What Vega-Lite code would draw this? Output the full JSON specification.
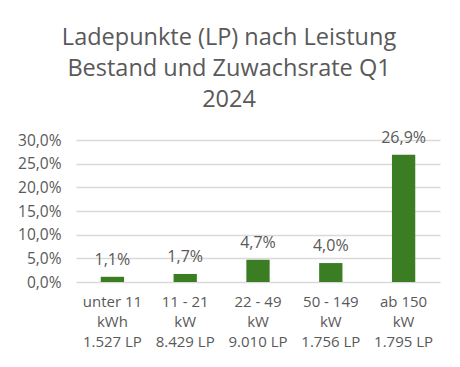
{
  "$schema": "https://vega.github.io/schema/vega-lite/v6.json",
  "width": 364,
  "height": 142,
  "autosize": {"type": "none"},
  "padding": {"left": 76, "top": 140, "right": 20, "bottom": 85},
  "background": "white",
  "title": {
    "text": ["Ladepunkte (LP) nach Leistung", "Bestand und Zuwachsrate Q1", "2024"],
    "fontSize": 23.5,
    "lineHeight": 31,
    "font": "Open Sans",
    "fontWeight": "normal",
    "color": "#595959",
    "anchor": "middle",
    "dx": -29,
    "offset": 18
  },
  "data": {
    "values": [
      {"kategorie": "unter 11|kWh|1.527 LP", "rate": 0.011},
      {"kategorie": "11 - 21|kW|8.429 LP", "rate": 0.017},
      {"kategorie": "22 - 49|kW|9.010 LP", "rate": 0.047},
      {"kategorie": "50 - 149|kW|1.756 LP", "rate": 0.040},
      {"kategorie": "ab 150|kW|1.795 LP", "rate": 0.269}
    ]
  },
  "encoding": {
    "x": {
      "field": "kategorie",
      "type": "nominal",
      "sort": null,
      "scale": {"paddingInner": 0.68, "paddingOuter": 0.34},
      "axis": {
        "title": null,
        "labelAngle": 0,
        "labelExpr": "split(datum.label, '|')",
        "labelLineHeight": 20,
        "labelFontSize": 15,
        "labelFont": "Open Sans",
        "labelColor": "#595959",
        "labelPadding": 12,
        "ticks": false,
        "domain": false
      }
    },
    "y": {
      "field": "rate",
      "type": "quantitative",
      "scale": {"domain": [0, 0.3], "nice": false},
      "axis": {
        "title": null,
        "format": ".1%",
        "values": [0, 0.05, 0.1, 0.15, 0.2, 0.25, 0.3],
        "labelFontSize": 15.5,
        "labelFont": "Open Sans",
        "labelColor": "#595959",
        "labelPadding": 15,
        "ticks": false,
        "domain": false,
        "gridColor": "#d9d9d9",
        "gridWidth": 1.5
      }
    }
  },
  "layer": [
    {"mark": {"type": "bar", "color": "#3B7D23"}},
    {
      "mark": {"type": "text", "baseline": "alphabetic", "dy": -12, "fontSize": 16, "font": "Open Sans", "color": "#595959"},
      "encoding": {"text": {"field": "rate", "type": "quantitative", "format": ".1%"}}
    }
  ],
  "config": {
    "view": {"stroke": null},
    "locale": {"number": {"decimal": ",", "thousands": ".", "grouping": [3], "currency": ["", " €"]}}
  }
}
